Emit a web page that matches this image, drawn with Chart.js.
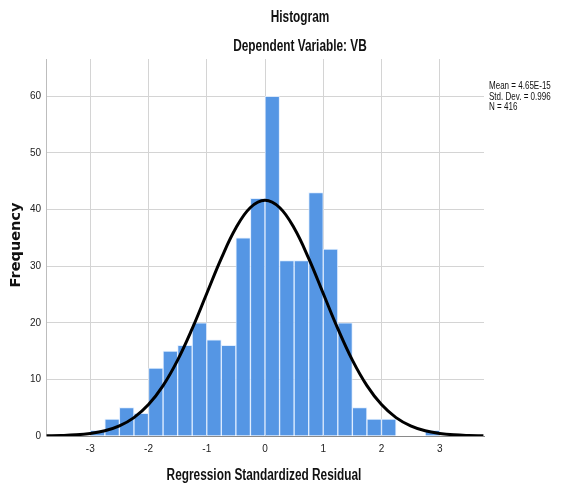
<!DOCTYPE html>
<html><head><meta charset="utf-8">
<script src="https://cdn.jsdelivr.net/npm/chart.js@4.4.1/dist/chart.umd.min.js"></script>
<style>html,body{margin:0;padding:0;background:#fff}#wrap{width:561px;height:489px}</style>
</head><body><div id="wrap"><canvas id="c" width="561" height="489"></canvas></div>
<script>
// Histogram bins (centres of 0.25-wide bins) and their frequencies
const binCenters = [-2.875,-2.625,-2.375,-2.125,-1.875,-1.625,-1.375,-1.125,-0.875,-0.625,-0.375,-0.125,
                    0.125,0.375,0.625,0.875,1.125,1.375,1.625,1.875,2.125,2.375,2.625,2.875];
const counts = [1,3,5,4,12,15,16,20,17,16,35,42,60,31,31,43,33,20,5,3,3,0,0,1];
// Normal curve
const curveX = [-3.75,-3.5,-3.25,-3,-2.75,-2.5,-2.25,-2,-1.75,-1.5,-1.25,-1,-0.75,-0.5,-0.25,0,
                0.25,0.5,0.75,1,1.25,1.5,1.75,2,2.25,2.5,2.75,3,3.25,3.5,3.75];
const curveY = [0.04,0.09,0.2,0.45,0.92,1.79,3.25,5.55,8.9,13.4,18.96,25.17,31.38,36.73,40.37,41.66,
                40.37,36.73,31.38,25.17,18.96,13.4,8.9,5.55,3.25,1.79,0.92,0.45,0.2,0.09,0.04];
const xTicks = [-3,-2,-1,0,1,2,3];
const yTicks = [0,10,20,30,40,50,60];
const titleText = "Histogram";
const subtitleText = "Dependent Variable: VB";
const xTitle = "Regression Standardized Residual";
const yTitle = "Frequency";
const statsLines = ["Mean = 4.65E-15","Std. Dev. = 0.996","N = 416"];

const SANS = '"Liberation Sans",Arial,sans-serif';

function condensed(ctx, text, x, y, sx) {
  ctx.save();
  ctx.translate(x, y);
  ctx.scale(sx, 1);
  ctx.fillText(text, 0, 0);
  ctx.restore();
}

const textPlugin = {
  id: 'texts',
  afterDraw(chart) {
    const ctx = chart.ctx;
    ctx.save();
    ctx.fillStyle = '#111';
    ctx.textBaseline = 'middle';
    ctx.textAlign = 'center';
    ctx.font = 'bold 16px ' + SANS;
    condensed(ctx, titleText, 300, 18, 0.74);
    condensed(ctx, subtitleText, 300, 47, 0.74);
    condensed(ctx, xTitle, 264, 476, 0.74);
    ctx.save();
    ctx.translate(16, 245);
    ctx.rotate(-Math.PI/2);
    ctx.font = 'bold 14.5px "DejaVu Sans",sans-serif';
    ctx.fillText(yTitle, 0, 0);
    ctx.restore();
    ctx.textAlign = 'left';
    ctx.font = '11px ' + SANS;
    statsLines.forEach((s,i)=>condensed(ctx, s, 489, 86 + i*10.5, 0.73));
    ctx.restore();
  }
};

new Chart(document.getElementById('c'), {
  type: 'bar',
  data: {
    datasets: [
      {
        type: 'line',
        data: curveX.map((x,i)=>({x, y: curveY[i]})),
        borderColor: '#000',
        borderWidth: 3,
        pointRadius: 0,
        tension: 0.4,
        fill: false,
        order: 1
      },
      {
        type: 'bar',
        data: binCenters.map((x,i)=>({x, y: counts[i]})),
        backgroundColor: '#5596e4',
        borderColor: 'rgba(220,235,255,0.85)',
        borderWidth: 1,
        barPercentage: 1,
        categoryPercentage: 1,
        grouped: false,
        order: 2
      }
    ]
  },
  options: {
    responsive: false,
    animation: false,
    devicePixelRatio: 1,
    layout: { padding: { left: 0, top: 59, right: 77, bottom: 0 } },
    plugins: { legend: { display: false }, tooltip: { enabled: false }, title: { display: false } },
    scales: {
      x: {
        type: 'linear',
        offset: false,
        min: -3.76, max: 3.76,
        afterBuildTicks: s => { s.ticks = xTicks.map(v=>({value:v})); },
        afterFit: s => { s.height = 53; },
        grid: { color: '#d4d4d4', lineWidth: 1, drawTicks: false, offset: false },
        border: { color: '#8a8a8a', width: 1 },
        ticks: { padding: 7, color: '#222', font: { size: 10, family: SANS } }
      },
      y: {
        min: 0, max: 66.6,
        afterBuildTicks: s => { s.ticks = yTicks.map(v=>({value:v})); },
        afterFit: s => { s.width = 46; },
        grid: { color: '#d4d4d4', lineWidth: 1, drawTicks: false },
        border: { color: '#bdbdbd', width: 1 },
        ticks: { padding: 5, color: '#222', font: { size: 10, family: SANS } }
      }
    }
  },
  plugins: [textPlugin]
});
</script></body></html>
